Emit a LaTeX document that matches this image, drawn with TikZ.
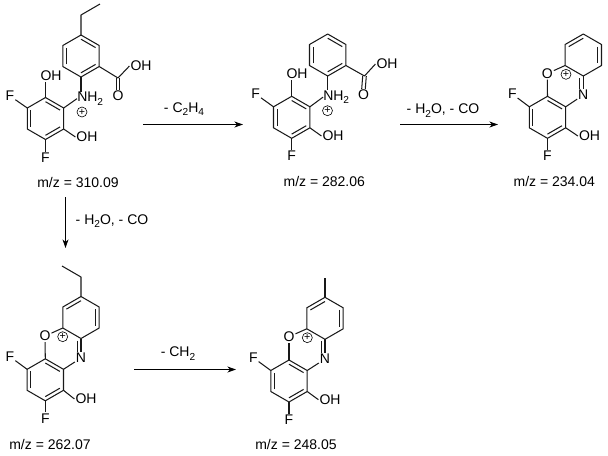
\documentclass[tikz,border=0pt]{standalone}
\usepackage{fontspec}
\setmainfont{Liberation Sans}
\usetikzlibrary{calc,arrows.meta}
\newcommand\subs[1]{\raisebox{-0.28em}{\fontsize{7.6}{8}\selectfont #1}}
\newcommand\hexring[3]{%
  \coordinate (#1c) at (#2,#3);
  \coordinate (#11) at ({#2},{#3-21});
  \coordinate (#12) at ({#2+18.2},{#3-10.5});
  \coordinate (#13) at ({#2+18.2},{#3+10.5});
  \coordinate (#14) at ({#2},{#3+21});
  \coordinate (#15) at ({#2-18.2},{#3+10.5});
  \coordinate (#16) at ({#2-18.2},{#3-10.5});
  \draw[bond] (#11)--(#12)--(#13)--(#14)--(#15)--(#16)--cycle;
}
\newcommand\dbl[3]{\draw[bond] ($(#1#2)!.2!(#1c)$) -- ($(#1#3)!.2!(#1c)$);}
\tikzset{
  bond/.style={line width=0.78pt,line join=round,draw=black!90},
  atom/.style={inner sep=0.6pt,font=\fontsize{10.5}{12}\selectfont},
  caption/.style={anchor=base,inner sep=0pt,font=\fontsize{10.5}{12}\selectfont},
  charge/.style={circle,draw,line width=0.45pt,inner sep=0pt,minimum size=7.5pt,font=\fontsize{8}{8}\selectfont},
  rxn/.style={line width=0.78pt,-{Stealth[length=6.5pt,width=4.5pt]}}
}
\begin{document}
\begin{tikzpicture}[x=0.75pt,y=-0.75pt]
\useasboundingbox (0,0) rectangle (608,455);
% ---------- structure 1
\hexring{a}{81}{56}\dbl{a}{1}{2}\dbl{a}{3}{4}\dbl{a}{5}{6}
\hexring{b}{45.5}{118.5}\dbl{b}{1}{2}\dbl{b}{3}{4}\dbl{b}{5}{6}
\coordinate (ae1) at (81,15);\coordinate (ae2) at (100,4);
\draw[bond] (a1)--(ae1)--(ae2);
\coordinate (ac1) at (118,78);
\node[atom] (ao) at (118,96) {O};
\node[atom] (aoh) at (141,66) {OH};
\draw[bond] (a3)--(ac1)--(aoh.west);
\draw[bond] ($(ac1)+(-1.8,0)$)--($(ao.north)+(-1.8,0)$);
\draw[bond] ($(ac1)+(1.8,0)$)--($(ao.north)+(1.8,0)$);
\node[atom,anchor=base west,inner sep=0pt] (an) at (77,101.5) {NH\subs{2}};
\draw[bond] (a4)--(a4 |- an.north);
\draw[bond] (b2)--(an.west);
\node[charge] (ap) at (82,112) {+};
\node[atom] (ao1) at (51,76) {OH};
\draw[bond] (b1)--(b1 |- ao1.south);
\node[atom] (ao2) at (87,137) {OH};
\draw[bond] (b3)--(ao2.west);
\node[atom] (af1) at (10,96) {F};
\draw[bond] (b6)--(af1);
\node[atom] (af2) at (45.5,158) {F};
\draw[bond] (b4)--(af2);
\node[caption] (am) at (78,187) {m/z = 310.09};
% ---------- structure 2
\hexring{c}{327.7}{55}\dbl{c}{1}{2}\dbl{c}{3}{4}\dbl{c}{5}{6}
\hexring{d}{291.7}{117.3}\dbl{d}{1}{2}\dbl{d}{3}{4}\dbl{d}{5}{6}
\coordinate (cc1) at (364.5,76);
\node[atom] (co) at (363.5,95) {O};
\node[atom] (coh) at (387,64) {OH};
\draw[bond] (c3)--(cc1)--(coh.west);
\draw[bond] ($(cc1)+(-1.8,0)$)--($(co.north)+(-1.8,0)$);
\draw[bond] ($(cc1)+(1.8,0)$)--($(co.north)+(1.8,0)$);
\node[atom,anchor=base west,inner sep=0pt] (cn) at (323,100) {NH\subs{2}};
\draw[bond] (c4)--(c4 |- cn.north);
\draw[bond] (d2)--(cn.west);
\node[charge] (cp) at (327.5,110.7) {+};
\node[atom] (co1) at (297,74) {OH};
\draw[bond] (d1)--(d1 |- co1.south);
\node[atom] (co2) at (333,136) {OH};
\draw[bond] (d3)--(co2.west);
\node[atom] (cf1) at (255.7,94) {F};
\draw[bond] (d6)--(cf1);
\node[atom] (cf2) at (291.7,156) {F};
\draw[bond] (d4)--(cf2);
\node[caption] (cm) at (324.3,186) {m/z = 282.06};
% ---------- structure 3
\hexring{e}{583.3}{55}\dbl{e}{6}{1}\dbl{e}{2}{3}
\hexring{f}{547.5}{117.3}\dbl{f}{1}{2}\dbl{f}{3}{4}\dbl{f}{5}{6}
\node[atom] (en) at (583.3,95) {N};
\node[atom] (eo) at (547.3,73.5) {O};
\node[charge] (ep) at (566,74.3) {+};
\draw[bond] (e5)--(eo);\draw[bond] (f1)--(eo);
\draw[bond] (e4)--(e4 |- en.north);
\draw[bond] ($(e4)+(-3.5,2)$)--($(e4 |- en.north)+(-3.5,0)$);
\draw[bond] (f2)--(en);
\node[atom] (eoh) at (589.5,136) {OH};
\draw[bond] (f3)--(eoh.west);
\node[atom] (ef1) at (512.3,94) {F};
\draw[bond] (f6)--(ef1);
\node[atom] (ef2) at (547.5,156) {F};
\draw[bond] (f4)--(ef2);
\node[caption] (em) at (554.3,186) {m/z = 234.04};
% ---------- structure 4
\hexring{g}{81}{317.5}\dbl{g}{6}{1}\dbl{g}{2}{3}
\hexring{h}{45.3}{379.8}\dbl{h}{1}{2}\dbl{h}{3}{4}\dbl{h}{5}{6}
\coordinate (ge1) at (81,277);\coordinate (ge2) at (62,266);
\draw[bond] (g1)--(ge1)--(ge2);
\node[atom] (gn) at (81,358) {N};
\node[atom] (go) at (45,336) {O};
\node[charge] (gp) at (62.7,336.7) {+};
\draw[bond] (g5)--(go);\draw[bond] (h1)--(go);
\draw[bond] (g4)--(g4 |- gn.north);
\draw[bond] ($(g4)+(-3.5,2)$)--($(g4 |- gn.north)+(-3.5,0)$);
\draw[bond] (h2)--(gn);
\node[atom] (goh) at (86,399) {OH};
\draw[bond] (h3)--(goh.west);
\node[atom] (gf1) at (10,356.7) {F};
\draw[bond] (h6)--(gf1);
\node[atom] (gf2) at (45.3,418.3) {F};
\draw[bond] (h4)--(gf2);
\node[caption] (gm) at (50,449) {m/z = 262.07};
% ---------- structure 5
\hexring{k}{325}{318.3}\dbl{k}{6}{1}\dbl{k}{2}{3}
\hexring{l}{289}{381}\dbl{l}{1}{2}\dbl{l}{3}{4}\dbl{l}{5}{6}
\coordinate (kme) at (325,277.5);
\draw[bond] (k1)--(kme);
\node[atom] (kn) at (325,359) {N};
\node[atom] (ko) at (289,336.7) {O};
\node[charge] (kp) at (307.3,337.7) {+};
\draw[bond] (k5)--(ko);\draw[bond] (l1)--(ko);
\draw[bond] (k4)--(k4 |- kn.north);
\draw[bond] ($(k4)+(-3.5,2)$)--($(k4 |- kn.north)+(-3.5,0)$);
\draw[bond] (l2)--(kn);
\node[atom] (koh) at (330,399.7) {OH};
\draw[bond] (l3)--(koh.west);
\node[atom] (kf1) at (253.3,357.7) {F};
\draw[bond] (l6)--(kf1);
\node[atom] (kf2) at (289,420) {F};
\draw[bond] (l4)--(kf2);
\node[caption] (km) at (296,449) {m/z = 248.05};
% ---------- reaction arrows
\coordinate (r1a) at (143,124.5);\coordinate (r1b) at (243,124.5);
\draw[rxn] (r1a)--(r1b);
\node[caption] (t1) at (184,112) {- C\subs{2}H\subs{4}};
\coordinate (r2a) at (400,124.5);\coordinate (r2b) at (498,124.5);
\draw[rxn] (r2a)--(r2b);
\node[caption] (t2) at (443,113.5) {- H\subs{2}O, - CO};
\coordinate (r3a) at (65.5,197);\coordinate (r3b) at (65.5,248);
\draw[rxn] (r3a)--(r3b);
\node[caption] (t3) at (112,224) {- H\subs{2}O, - CO};
\coordinate (r4a) at (134,369.5);\coordinate (r4b) at (236,369.5);
\draw[rxn] (r4a)--(r4b);
\node[caption] (t4) at (178,356.5) {- CH\subs{2}};
\end{tikzpicture}
\end{document}
